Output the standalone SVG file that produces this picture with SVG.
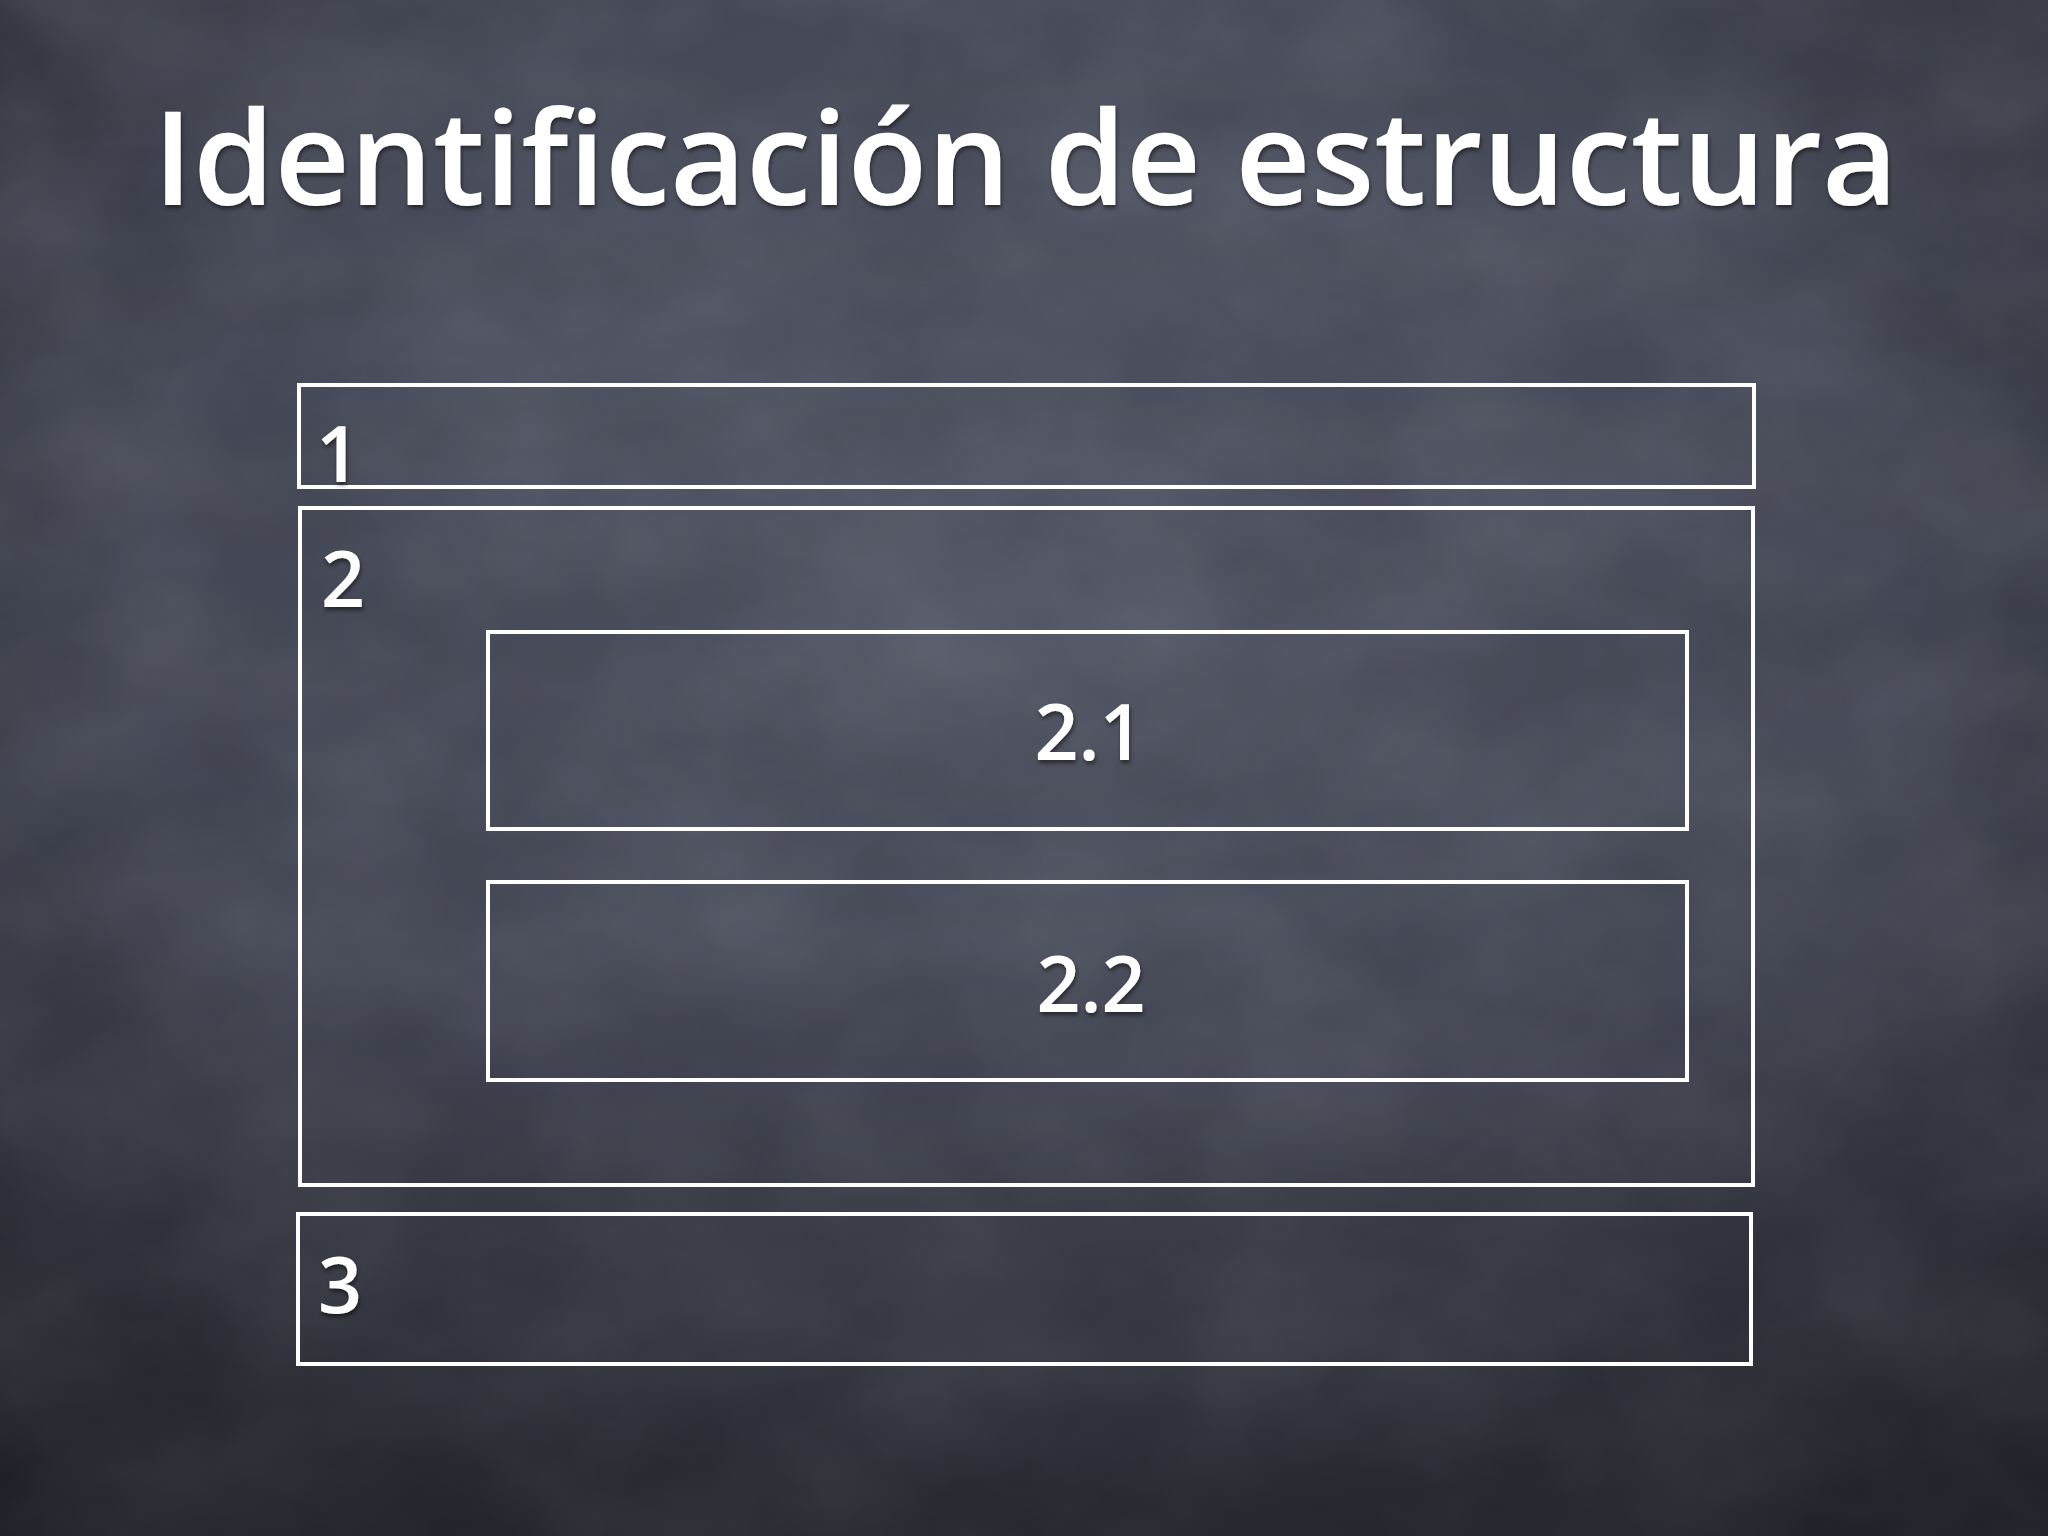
<svg xmlns="http://www.w3.org/2000/svg" width="2048" height="1536" viewBox="0 0 2048 1536">
  <defs>
    <radialGradient id="bg" cx="0.5" cy="0.4" r="0.75">
      <stop offset="0" stop-color="#525665"/>
      <stop offset="0.55" stop-color="#454856"/>
      <stop offset="1" stop-color="#2b2d36"/>
    </radialGradient>
    <linearGradient id="shade" x1="0" y1="0" x2="0" y2="1">
      <stop offset="0" stop-color="#000" stop-opacity="0"/>
      <stop offset="0.6" stop-color="#000" stop-opacity="0.06"/>
      <stop offset="1" stop-color="#000" stop-opacity="0.3"/>
    </linearGradient>
    <filter id="chalk" x="0" y="0" width="100%" height="100%">
      <feTurbulence type="fractalNoise" baseFrequency="0.005 0.007" numOctaves="4" seed="7"/>
      <feColorMatrix type="matrix" values="0 0 0 0 0.72  0 0 0 0 0.75  0 0 0 0 0.84  0 0 0 0.18 -0.05"/>
    </filter>
    <filter id="shadow" x="-10%" y="-30%" width="120%" height="160%">
      <feDropShadow dx="1" dy="3" stdDeviation="2" flood-color="#000" flood-opacity="0.5"/>
    </filter>
  </defs>
  <style>
    .box { fill: none; stroke: #ffffff; stroke-width: 4; }
    .lbl { fill: #ffffff; font-family: "Open Sans", "DejaVu Sans", sans-serif; font-size: 77px; font-weight: 600; filter: url(#shadow); }
    .mid { text-anchor: middle; }
    .title { fill: #ffffff; font-family: "Open Sans", "DejaVu Sans", sans-serif; font-size: 130px; font-weight: 600; filter: url(#shadow); }
  </style>

  <rect x="0" y="0" width="2048" height="1536" fill="url(#bg)"/>
  <rect x="0" y="0" width="2048" height="1536" filter="url(#chalk)"/>
  <rect x="0" y="0" width="2048" height="1536" fill="url(#shade)"/>

  <text class="title" x="153" y="205" textLength="1745" lengthAdjust="spacingAndGlyphs">Identificación de estructura</text>

  <g id="node-1">
    <rect class="box" x="299" y="385" width="1455" height="102"/>
    <text class="lbl" x="316" y="482">1</text>
  </g>
  <g id="node-2">
    <rect class="box" x="300" y="508" width="1453" height="677"/>
    <text class="lbl" x="321" y="607">2</text>
  </g>
  <g id="node-2-1">
    <rect class="box" x="488" y="632" width="1199" height="197"/>
    <text class="lbl mid" x="1089" y="760">2.1</text>
  </g>
  <g id="node-2-2">
    <rect class="box" x="488" y="882" width="1199" height="198"/>
    <text class="lbl mid" x="1091" y="1012">2.2</text>
  </g>
  <g id="node-3">
    <rect class="box" x="298" y="1214" width="1453" height="150"/>
    <text class="lbl" x="318" y="1313">3</text>
  </g>
  <g id="connectors"></g>
</svg>
